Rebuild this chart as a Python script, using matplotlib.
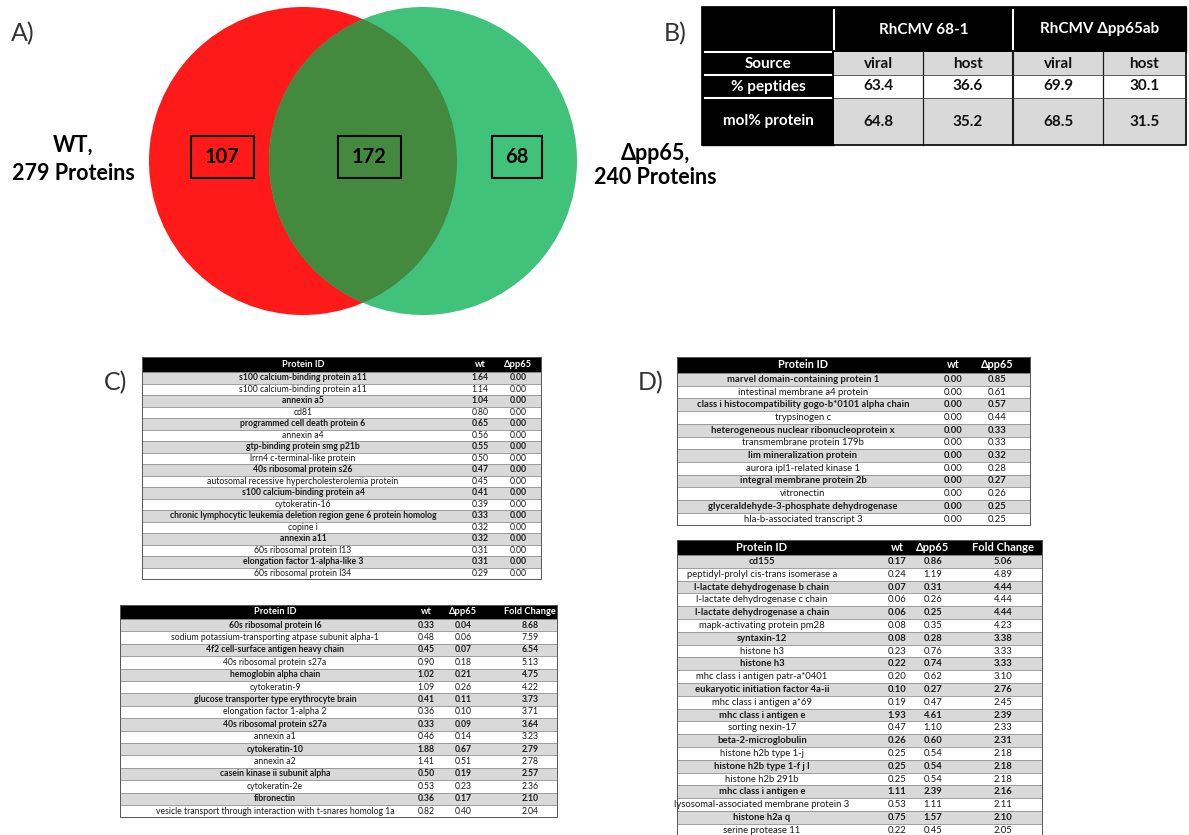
import matplotlib
matplotlib.use("Agg")
import matplotlib.pyplot as plt
from matplotlib.patches import Circle, Rectangle

plt.rcParams['font.family'] = ['Lato', 'DejaVu Sans']

# ---- A) Venn
venn_counts = [107, 172, 68]
venn_left_label = ["WT,", "279 Proteins"]
venn_right_label = ["\u0394pp65,", "240 Proteins"]

# ---- B) composition table
b_groups = ["RhCMV 68-1", "RhCMV \u0394pp65ab"]
b_sources = ["viral", "host", "viral", "host"]
b_rows = ["% peptides", "mol% protein"]
b_peptides = [63.4, 36.6, 69.9, 30.1]
b_molprot = [64.8, 35.2, 68.5, 31.5]

# ---- C) wt-only proteins
c_top_ids = ["s100 calcium-binding protein a11", "s100 calcium-binding protein a11", "annexin a5",
             "cd81", "programmed cell death protein 6", "annexin a4", "gtp-binding protein smg p21b",
             "lrrn4 c-terminal-like protein", "40s ribosomal protein s26",
             "autosomal recessive hypercholesterolemia protein", "s100 calcium-binding protein a4",
             "cytokeratin-16", "chronic lymphocytic leukemia deletion region gene 6 protein homolog",
             "copine i", "annexin a11", "60s ribosomal protein l13", "elongation factor 1-alpha-like 3",
             "60s ribosomal protein l34"]
c_top_wt = [1.64, 1.14, 1.04, 0.80, 0.65, 0.56, 0.55, 0.50, 0.47, 0.45, 0.41, 0.39, 0.33, 0.32,
            0.32, 0.31, 0.31, 0.29]
c_top_pp65 = [0.00] * len(c_top_ids)

c_bot_ids = ["60s ribosomal protein l6", "sodium potassium-transporting atpase subunit alpha-1",
             "4f2 cell-surface antigen heavy chain", "40s ribosomal protein s27a", "hemoglobin alpha chain",
             "cytokeratin-9", "glucose transporter type erythrocyte brain", "elongation factor 1-alpha 2",
             "40s ribosomal protein s27a", "annexin a1", "cytokeratin-10", "annexin a2",
             "casein kinase ii subunit alpha", "cytokeratin-2e", "fibronectin",
             "vesicle transport through interaction with t-snares homolog 1a"]
c_bot_wt = [0.33, 0.48, 0.45, 0.90, 1.02, 1.09, 0.41, 0.36, 0.33, 0.46, 1.88, 1.41, 0.50, 0.53, 0.36, 0.82]
c_bot_pp65 = [0.04, 0.06, 0.07, 0.18, 0.21, 0.26, 0.11, 0.10, 0.09, 0.14, 0.67, 0.51, 0.19, 0.23, 0.17, 0.40]
c_bot_fc = [8.68, 7.59, 6.54, 5.13, 4.75, 4.22, 3.73, 3.71, 3.64, 3.23, 2.79, 2.78, 2.57, 2.36, 2.10, 2.04]

# ---- D) pp65-only / enriched proteins
d_top_ids = ["marvel domain-containing protein 1", "intestinal membrane a4 protein",
             "class i histocompatibility gogo-b*0101 alpha chain", "trypsinogen c",
             "heterogeneous nuclear ribonucleoprotein x", "transmembrane protein 179b",
             "lim mineralization protein", "aurora ipl1-related kinase 1", "integral membrane protein 2b",
             "vitronectin", "glyceraldehyde-3-phosphate dehydrogenase", "hla-b-associated transcript 3"]
d_top_wt = [0.00] * len(d_top_ids)
d_top_pp65 = [0.85, 0.61, 0.57, 0.44, 0.33, 0.33, 0.32, 0.28, 0.27, 0.26, 0.25, 0.25]

d_bot_ids = ["cd155", "peptidyl-prolyl cis-trans isomerase a", "l-lactate dehydrogenase b chain",
             "l-lactate dehydrogenase c chain", "l-lactate dehydrogenase a chain",
             "mapk-activating protein pm28", "syntaxin-12", "histone h3", "histone h3",
             "mhc class i antigen patr-a*0401", "eukaryotic initiation factor 4a-ii",
             "mhc class i antigen a*69", "mhc class i antigen e", "sorting nexin-17", "beta-2-microglobulin",
             "histone h2b type 1-j", "histone h2b type 1-f j l", "histone h2b 291b", "mhc class i antigen e",
             "lysosomal-associated membrane protein 3", "histone h2a q", "serine protease 11"]
d_bot_wt = [0.17, 0.24, 0.07, 0.06, 0.06, 0.08, 0.08, 0.23, 0.22, 0.20, 0.10, 0.19, 1.93, 0.47, 0.26,
            0.25, 0.25, 0.25, 1.11, 0.53, 0.75, 0.22]
d_bot_pp65 = [0.86, 1.19, 0.31, 0.26, 0.25, 0.35, 0.28, 0.76, 0.74, 0.62, 0.27, 0.47, 4.61, 1.10, 0.60,
              0.54, 0.54, 0.54, 2.39, 1.11, 1.57, 0.45]
d_bot_fc = [5.06, 4.89, 4.44, 4.44, 4.44, 4.23, 3.38, 3.33, 3.33, 3.10, 2.76, 2.45, 2.39, 2.33, 2.31,
            2.18, 2.18, 2.18, 2.16, 2.11, 2.10, 2.05]

GRAY = '#d9d9d9'


def draw_table(ax, x0, x1, y0, head_h, row_h, headers, centers, columns, fs, head_fs):
    """Protein table: black header, gray/white alternating rows (gray rows bold)."""
    n = len(columns[0])
    ax.add_patch(Rectangle((x0, y0), x1 - x0, head_h, facecolor='black', edgecolor='black', lw=0.6))
    for h, cx in zip(headers, centers):
        ax.text(cx, y0 + head_h / 2, h, color='white', fontsize=head_fs, fontweight='bold',
                ha='center', va='center')
    for i in range(n):
        top = y0 + head_h + i * row_h
        shade = (i % 2 == 0)
        ax.add_patch(Rectangle((x0, top), x1 - x0, row_h, facecolor=GRAY if shade else 'white',
                               edgecolor='#8c8c8c', lw=0.5))
        for col, cx in zip(columns, centers):
            val = col[i]
            s = val if isinstance(val, str) else f"{val:.2f}"
            ax.text(cx, top + row_h / 2, s, fontsize=fs, fontweight='bold' if shade else 'normal',
                    color='#1a1a1a', ha='center', va='center')
    ax.add_patch(Rectangle((x0, y0), x1 - x0, head_h + n * row_h, facecolor='none',
                           edgecolor='#595959', lw=0.7))


fig = plt.figure(figsize=(11.89, 8.35), dpi=100)
ax = fig.add_axes([0, 0, 1, 1])
ax.set_xlim(0, 1189)
ax.set_ylim(835, 0)
ax.axis('off')

# panel letters
for lab, x, y in [("A)", 11, 34), ("B)", 664, 34), ("C)", 104, 383), ("D)", 638, 383)]:
    ax.text(x, y, lab, fontsize=18, fontweight='normal', ha='left', va='center', color='#333333')

# ---- Venn diagram
red = Circle((303, 161), 154, facecolor='#ff1a1a', edgecolor='none')
green = Circle((423, 161), 154, facecolor='#40c27b', edgecolor='none')
ax.add_patch(red)
ax.add_patch(green)
lens = Circle((423, 161), 154, facecolor='#438a3f', edgecolor='none')
ax.add_patch(lens)
lens.set_clip_path(red)

for cnt, (bx0, bx1) in zip(venn_counts, [(191, 254), (338, 401), (492, 542)]):
    ax.add_patch(Rectangle((bx0, 136), bx1 - bx0, 42, facecolor='none', edgecolor='black', lw=1.5))
    ax.text((bx0 + bx1) / 2, 157, str(cnt), fontsize=14.5, fontweight='bold', ha='center', va='center')

for txt, yy in zip(venn_left_label, [145, 173]):
    ax.text(73, yy, txt, fontsize=15.5, fontweight='bold', ha='center', va='center')
for txt, yy in zip(venn_right_label, [153, 177]):
    ax.text(655, yy, txt, fontsize=15.5, fontweight='bold', ha='center', va='center')

# ---- Table B
bx = [702, 834, 923, 1013, 1103, 1186]
by = [7, 52, 75, 98, 145]
ax.add_patch(Rectangle((bx[0], by[0]), bx[-1] - bx[0], by[1] - by[0], facecolor='black', edgecolor='black'))
ax.add_patch(Rectangle((bx[0], by[1]), bx[1] - bx[0], by[-1] - by[1], facecolor='black', edgecolor='black'))
row_fill = [GRAY, 'white', GRAY]
for r in range(3):
    ax.add_patch(Rectangle((bx[1], by[r + 1]), bx[-1] - bx[1], by[r + 2] - by[r + 1],
                           facecolor=row_fill[r], edgecolor='none'))
# white separators in the black areas
for yy in by[1:4]:
    ax.plot([bx[0] + 3, bx[1] - 3], [yy, yy], color='white', lw=1.5)
for xx in [bx[1], bx[3]]:
    ax.plot([xx, xx], [by[0] + 3, by[1] - 3], color='white', lw=1.5)
# dark cell separators
for xx in bx[2:5]:
    ax.plot([xx, xx], [by[1], by[-1]], color='#1a1a1a', lw=1.5 if xx == bx[3] else 0.9)
for yy in by[2:4]:
    ax.plot([bx[1], bx[-1]], [yy, yy], color='#404040', lw=0.6)
ax.add_patch(Rectangle((bx[0], by[0]), bx[-1] - bx[0], by[-1] - by[0], facecolor='none',
                       edgecolor='black', lw=1.2))

ax.text((bx[1] + bx[3]) / 2, (by[0] + by[1]) / 2, b_groups[0], color='white', fontsize=11,
        fontweight='bold', ha='center', va='center')
ax.text((bx[3] + bx[5]) / 2, (by[0] + by[1]) / 2, b_groups[1], color='white', fontsize=11,
        fontweight='bold', ha='center', va='center')
first_col = ["Source"] + b_rows
for r, lab in enumerate(first_col):
    ax.text((bx[0] + bx[1]) / 2, (by[r + 1] + by[r + 2]) / 2, lab, color='white', fontsize=11,
            fontweight='bold', ha='center', va='center')
for c in range(4):
    cx = (bx[c + 1] + bx[c + 2]) / 2
    ax.text(cx, (by[1] + by[2]) / 2, b_sources[c], fontsize=11, fontweight='bold', ha='center',
            va='center', color='#111111')
    ax.text(cx, (by[2] + by[3]) / 2, f"{b_peptides[c]:.1f}", fontsize=11, fontweight='bold',
            ha='center', va='center', color='#111111')
    ax.text(cx, (by[3] + by[4]) / 2, f"{b_molprot[c]:.1f}", fontsize=11, fontweight='bold',
            ha='center', va='center', color='#111111')

# ---- Tables C and D
draw_table(ax, 142, 541, 357, 15, 11.5, ["Protein ID", "wt", "\u0394pp65"], [303, 480, 518],
           [c_top_ids, c_top_wt, c_top_pp65], 6.2, 6.7)
draw_table(ax, 120, 557, 605, 14, 12.4, ["Protein ID", "wt", "\u0394pp65", "Fold Change"],
           [275, 426, 463, 530], [c_bot_ids, c_bot_wt, c_bot_pp65, c_bot_fc], 6.2, 6.7)
draw_table(ax, 677, 1030, 357, 16, 12.7, ["Protein ID", "wt", "\u0394pp65"], [803, 953, 997],
           [d_top_ids, d_top_wt, d_top_pp65], 6.8, 7.8)
draw_table(ax, 677, 1042, 540, 15, 12.8, ["Protein ID", "wt", "\u0394pp65", "Fold Change"],
           [762, 897, 933, 1003], [d_bot_ids, d_bot_wt, d_bot_pp65, d_bot_fc], 6.8, 8.0)

fig.savefig("out.png", dpi=100)
